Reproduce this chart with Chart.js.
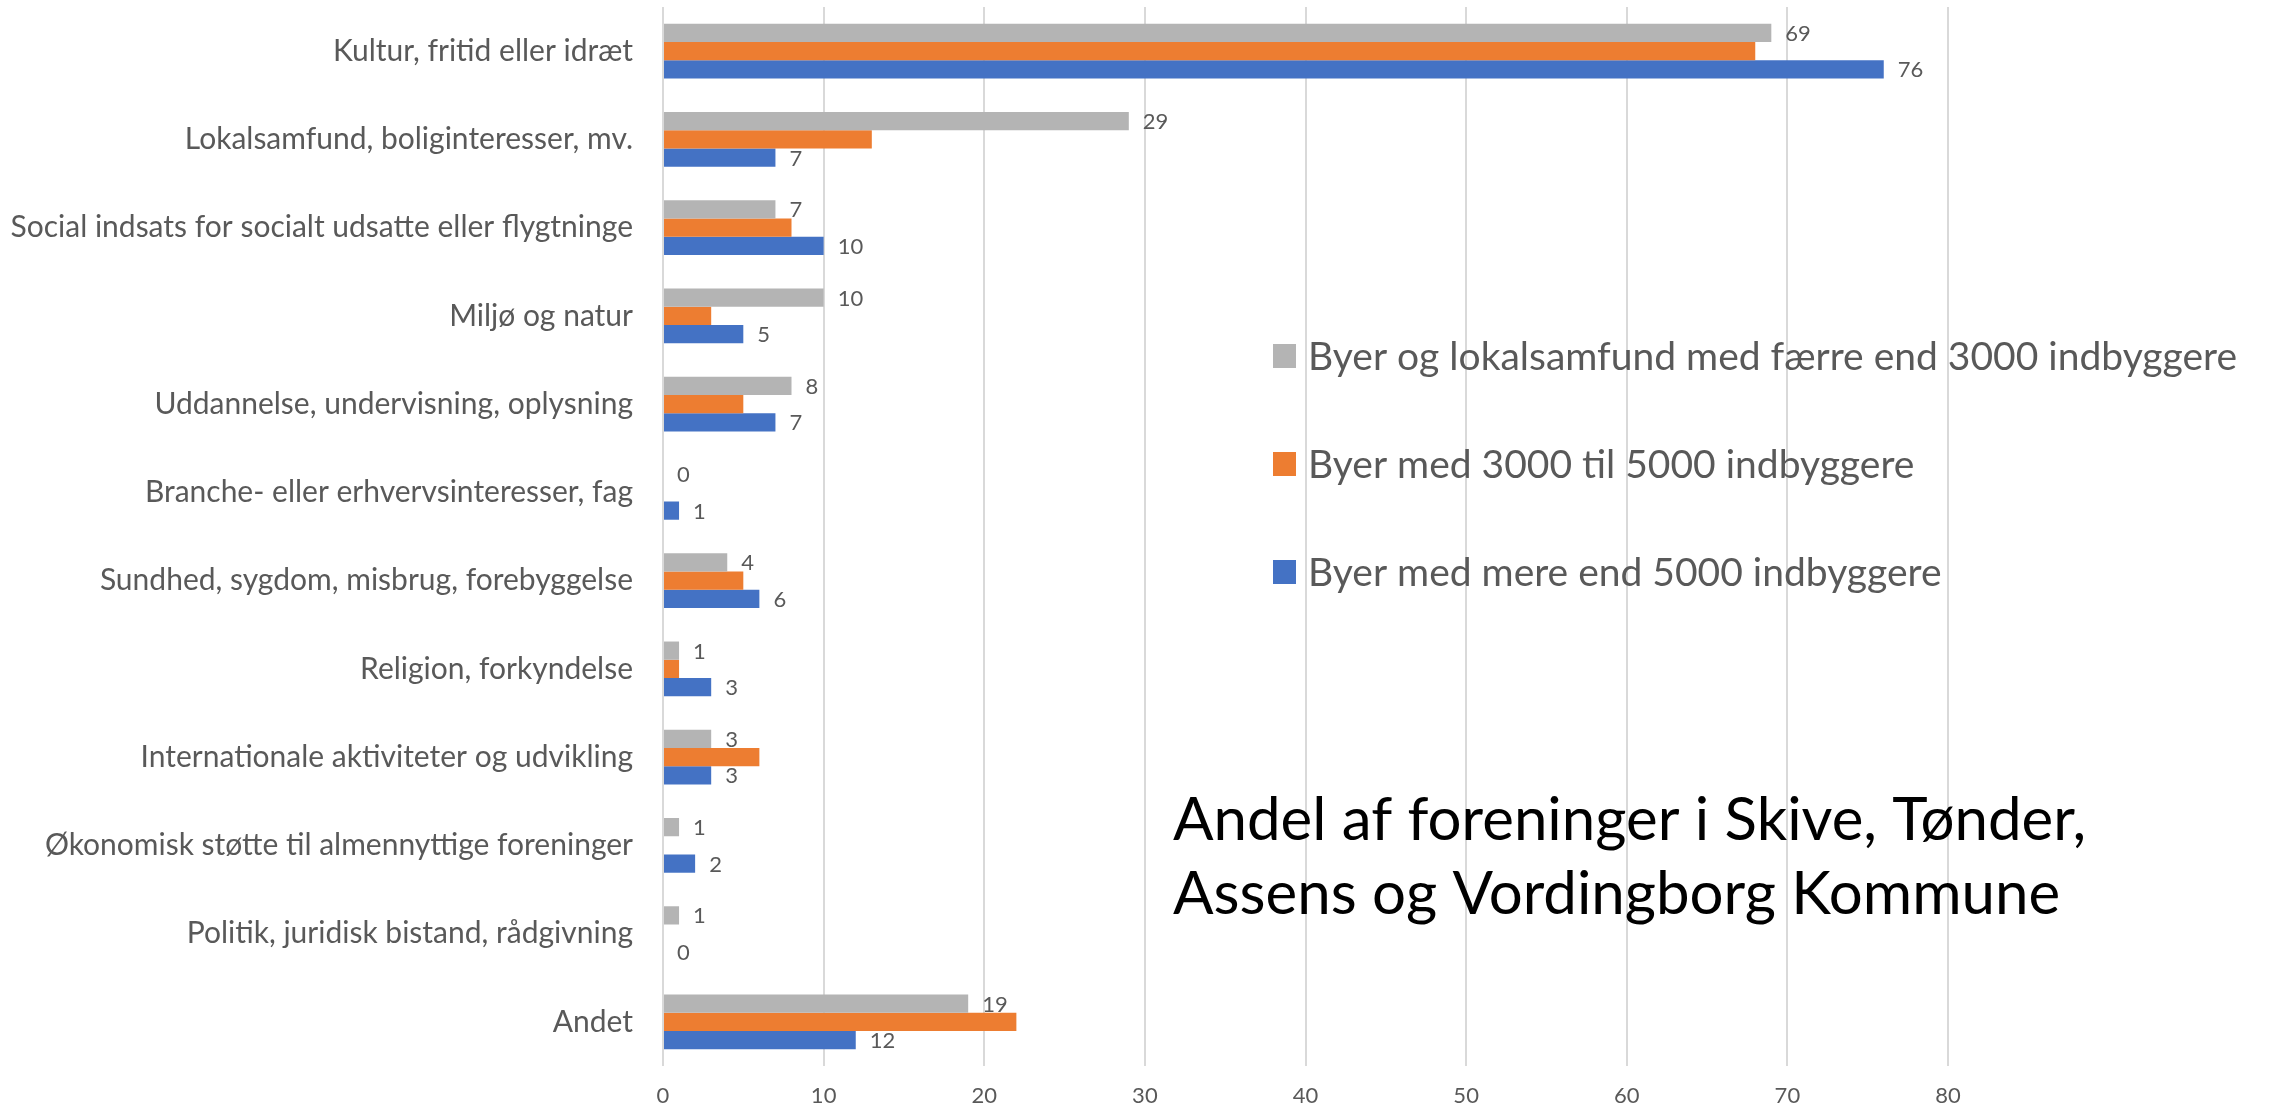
<!DOCTYPE html>
<html>
<head>
<meta charset="utf-8">
<script src="https://cdn.jsdelivr.net/npm/chart.js@4/dist/chart.umd.min.js"></script>
<style>
  html, body { margin: 0; padding: 0; background: #fff; }
  #wrap { width: 2277px; height: 1107px; }
</style>
</head>
<body>
<div id="wrap"><canvas id="foreningerChart" width="2277" height="1107"></canvas></div>
<script>
const categories = [
  "Kultur, fritid eller idræt",
  "Lokalsamfund, boliginteresser, mv.",
  "Social indsats for socialt udsatte eller flygtninge",
  "Miljø og natur",
  "Uddannelse, undervisning, oplysning",
  "Branche- eller erhvervsinteresser, fag",
  "Sundhed, sygdom, misbrug, forebyggelse",
  "Religion, forkyndelse",
  "Internationale aktiviteter og udvikling",
  "Økonomisk støtte til almennyttige foreninger",
  "Politik, juridisk bistand, rådgivning",
  "Andet"
];
const seriesNames = [
  "Byer og lokalsamfund med færre end 3000 indbyggere",
  "Byer med 3000 til 5000 indbyggere",
  "Byer med mere end 5000 indbyggere"
];
const smallTowns = [69, 29, 7, 10, 8, 0, 4, 1, 3, 1, 1, 19];
const midTowns = [68, 13, 8, 3, 5, 0, 5, 1, 6, 0, 0, 22];
const bigTowns = [76, 7, 10, 5, 7, 1, 6, 3, 3, 2, 0, 12];
const xMin = 0, xMax = 80, xStep = 10;
const titleLines = ["Andel af foreninger i Skive, Tønder,", "Assens og Vordingborg Kommune"];

const FONT = "Lato, 'Open Sans', sans-serif";
const TEXT_GREY = "#595959";

// value labels next to the grey and blue bars (orange has none in the original)
const valueLabels = {
  id: "valueLabels",
  afterDatasetsDraw(chart) {
    const ctx = chart.ctx;
    ctx.save();
    ctx.font = "22px " + FONT;
    ctx.fillStyle = TEXT_GREY;
    ctx.textAlign = "left";
    ctx.textBaseline = "middle";
    chart.data.datasets.forEach((ds, i) => {
      if (!ds.showValues) return;
      chart.getDatasetMeta(i).data.forEach((bar, j) => {
        ctx.fillText(String(ds.data[j]), bar.x + 14, bar.y + 1);
      });
    });
    ctx.restore();
  }
};

// legend floating inside the plot, as in the original
const floatingLegend = {
  id: "floatingLegend",
  afterDraw(chart) {
    const ctx = chart.ctx;
    ctx.save();
    ctx.font = "39px " + FONT;
    ctx.textBaseline = "middle";
    ctx.textAlign = "left";
    chart.data.datasets.forEach((ds, i) => {
      const y = 356 + i * 108;
      ctx.fillStyle = ds.backgroundColor;
      ctx.fillRect(1273, y - 12, 23, 24);
      ctx.fillStyle = TEXT_GREY;
      ctx.fillText(ds.label, 1308, y + 1);
    });
    ctx.restore();
  }
};

const innerTitle = {
  id: "innerTitle",
  afterDraw(chart) {
    const ctx = chart.ctx;
    ctx.save();
    ctx.font = "60px " + FONT;
    ctx.fillStyle = "#000";
    ctx.textAlign = "left";
    ctx.textBaseline = "alphabetic";
    titleLines.forEach((line, i) => ctx.fillText(line, 1173, 840 + i * 74));
    ctx.restore();
  }
};

new Chart(document.getElementById("foreningerChart"), {
  type: "bar",
  data: {
    labels: categories,
    datasets: [
      { label: seriesNames[0], data: smallTowns, backgroundColor: "#b4b4b4", showValues: true },
      { label: seriesNames[1], data: midTowns, backgroundColor: "#ed7d31", showValues: false },
      { label: seriesNames[2], data: bigTowns, backgroundColor: "#4472c4", showValues: true }
    ]
  },
  options: {
    indexAxis: "y",
    responsive: false,
    animation: false,
    datasets: { bar: { categoryPercentage: 0.62, barPercentage: 1.0 } },
    layout: { padding: { top: 7, right: 329, bottom: 0, left: 0 } },
    plugins: {
      legend: { display: false },
      title: { display: false },
      tooltip: { enabled: false }
    },
    scales: {
      x: {
        min: xMin,
        max: xMax,
        ticks: { stepSize: xStep, color: TEXT_GREY, font: { family: FONT, size: 22 }, padding: 17 },
        grid: { color: "#d9d9d9", lineWidth: 2, drawTicks: false },
        border: { display: false },
        afterFit(scale) { scale.height = 41; }
      },
      y: {
        ticks: { color: TEXT_GREY, font: { family: FONT, size: 30 }, padding: 30, autoSkip: false },
        grid: { display: false, drawTicks: false },
        border: { display: false },
        afterFit(scale) {
          scale.width = 663;
          scale.paddingTop = 0;
          scale.paddingBottom = 0;
        }
      }
    }
  },
  plugins: [valueLabels, floatingLegend, innerTitle]
});
</script>
</body>
</html>
